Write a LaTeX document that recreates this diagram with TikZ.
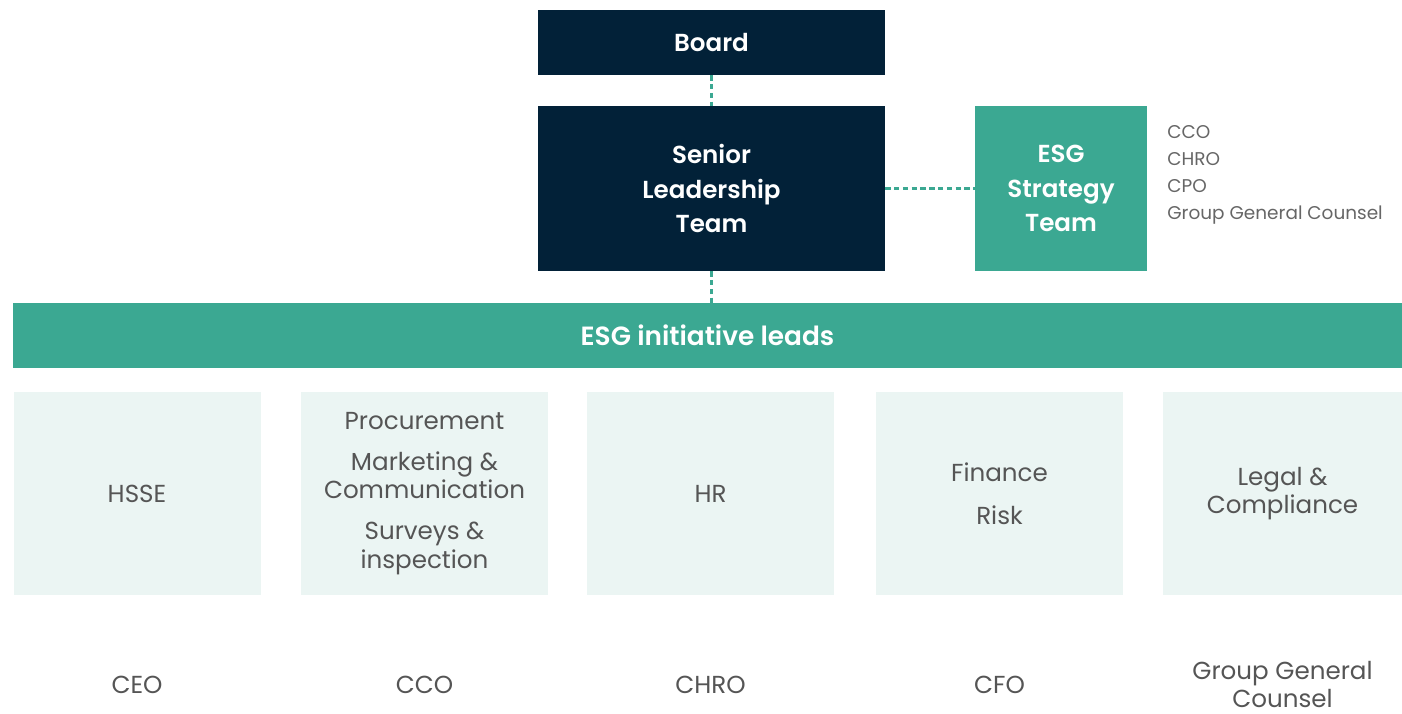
\documentclass[tikz,border=0pt]{standalone}
\usepackage{fontspec}
\setmainfont{Poppins}[BoldFont={Poppins SemiBold}]

\definecolor{navy}{HTML}{022138}
\definecolor{teal}{HTML}{3BA892}
\definecolor{mist}{HTML}{EBF5F3}
\definecolor{ink}{HTML}{555555}

\begin{document}
\begin{tikzpicture}[x=0.02cm, y=-0.02cm,
	every node/.style={inner sep=0pt, align=center},
	topbox/.style={rectangle, fill=navy, text=white, minimum width=6.94cm, font=\fontsize{14}{19.6}\selectfont\bfseries},
	areabox/.style={rectangle, fill=mist, text=ink, minimum height=4.06cm, font=\fontsize{14}{16.4}\selectfont},
	owner/.style={text=ink, font=\fontsize{14}{15.6}\selectfont},
	link/.style={teal, line width=1.3pt, dash pattern=on 3pt off 2pt}]

\useasboundingbox (0,0) rectangle (1402,713);

\node[topbox, minimum height=1.3cm](board) at(711.5,42.5) {Board};
\node[topbox, minimum height=3.3cm](slt) at(711.5,188.5) {Senior\\Leadership\\Team};
\node[topbox, fill=teal, minimum width=3.44cm, minimum height=3.3cm](strategy) at(1061,188.5) {ESG\\Strategy\\Team};
\node[anchor=west, text=ink!90, font=\fontsize{10.5}{15.3}\selectfont, align=left](members) at(1167,175) {CCO\\CHRO\\CPO\\Group General Counsel};

\node[rectangle, fill=teal, text=white, minimum width=27.78cm, minimum height=1.3cm, font=\fontsize{15}{18}\selectfont\bfseries](leads) at(707.5,335.5) {ESG initiative leads};

\foreach [count=\i] \x/\w/\area/\lead in {
137/247/{HSSE}/{CEO}%
,424.5/247/{Procurement\\[6.8pt]Marketing \&\\Communication\\[6.8pt]Surveys \&\\inspection}/{CCO}%
,710.5/247/{HR}/{CHRO}%
,999.5/247/{Finance\\[8pt]Risk}/{CFO}%
,1282.5/239/{Legal \&\\Compliance}/{Group General\\Counsel}%
}{
	\node[areabox, minimum width=\w*0.02cm](area\i) at(\x,493.5) {\area};
	\node[owner](owner\i) at(\x,684.5) {\lead};
}

\draw[link] (board) -- (slt);
\draw[link] (slt.south) -- (slt.south |- leads.north);
\draw[link] (slt) -- (strategy);

\end{tikzpicture}
\end{document}
